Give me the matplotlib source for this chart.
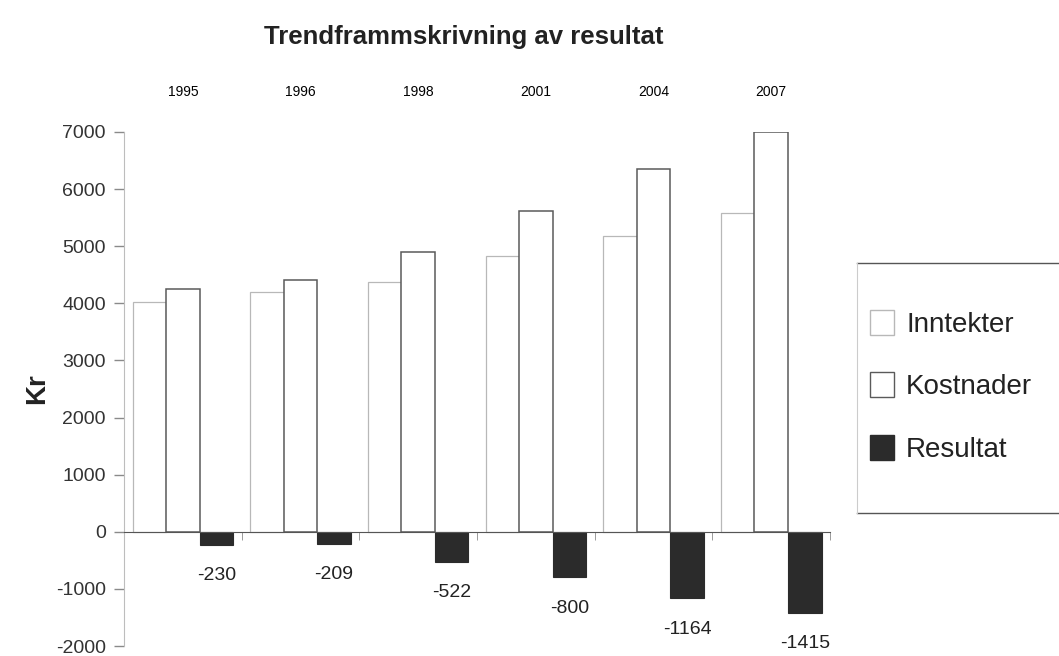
import numpy as np
import matplotlib
matplotlib.use("Agg")
import matplotlib.pyplot as plt
from matplotlib.patches import Patch
from matplotlib.lines import Line2D

years = ["1995", "1996", "1998", "2001", "2004", "2007"]
inntekter = [4020, 4200, 4370, 4820, 5185, 5580]
kostnader = [4250, 4409, 4892, 5620, 6349, 6995]
resultat = [-230, -209, -522, -800, -1164, -1415]

plt.rcParams['font.family'] = ['Liberation Sans', 'DejaVu Sans']
plt.rcParams['axes.unicode_minus'] = False

fig = plt.figure(figsize=(10.59, 6.56), dpi=100)
ax = fig.add_axes([0.1171, 0.0152, 0.6667, 0.7836])

x = np.arange(len(years))
w = 0.285

ax.bar(x - w, inntekter, w, color='white', edgecolor='#b8b8b8', linewidth=0.9)
ax.bar(x, kostnader, w, color='white', edgecolor='#5a5a5a', linewidth=1.1)
ax.bar(x + w, resultat, w, color='#2b2b2b', edgecolor='#2b2b2b', linewidth=0.8)

# value labels under the Resultat bars
for xi, r in zip(x, resultat):
    ax.text(xi + w, r - 540, str(r), ha='center', va='center', fontsize=14, color='#222222')

ax.set_xlim(-0.5, len(years) - 0.5)
ax.set_ylim(-2000, 7000)
ax.set_yticks(range(-2000, 7001, 1000))
ax.tick_params(axis='y', direction='out', length=7, width=1, color='#8a8a8a',
               labelsize=14, labelcolor='#333333', pad=6)

# years on top, boundary ticks on the zero line
ax.set_xticks(x)
ax.set_xticklabels(years, fontsize=10.5, color='#444444')
ax.set_xticks(np.arange(-0.5, len(years)), minor=True)
ax.tick_params(axis='x', which='major', bottom=False, top=False,
               labelbottom=False, labeltop=True, pad=20)
ax.tick_params(axis='x', which='minor', bottom=True, top=False, direction='out',
               length=6, color='#8a8a8a')

ax.spines['bottom'].set_position(('data', 0))
ax.spines['bottom'].set_color('#555555')
ax.spines['left'].set_color('#bdbdbd')
ax.spines['top'].set_visible(False)
ax.spines['right'].set_visible(False)

ax.set_ylabel('Kr', fontsize=20, fontweight='bold', color='#222222', labelpad=4)

fig.text(0.438, 0.944, 'Trendframmskrivning av resultat', ha='center', va='center',
         fontsize=18.5, fontweight='bold', color='#222222')

handles = [Patch(facecolor='white', edgecolor='#b8b8b8', label='Inntekter'),
           Patch(facecolor='white', edgecolor='#5a5a5a', label='Kostnader'),
           Patch(facecolor='#2b2b2b', edgecolor='#2b2b2b', label='Resultat')]
fig.legend(handles=handles, loc='upper left', bbox_to_anchor=(0.798, 0.566),
           frameon=False, fontsize=20, handlelength=0.85, handleheight=1.0,
           handletextpad=0.45, labelspacing=1.25, labelcolor='#222222')

# legend box, cut off at the right edge
fig.add_artist(Line2D([0.809, 1.0], [0.599, 0.599], color='#555555', lw=1))
fig.add_artist(Line2D([0.809, 1.0], [0.218, 0.218], color='#555555', lw=1))
fig.add_artist(Line2D([0.809, 0.809], [0.218, 0.599], color='#cccccc', lw=0.8))

fig.savefig('out.png', dpi=100)
